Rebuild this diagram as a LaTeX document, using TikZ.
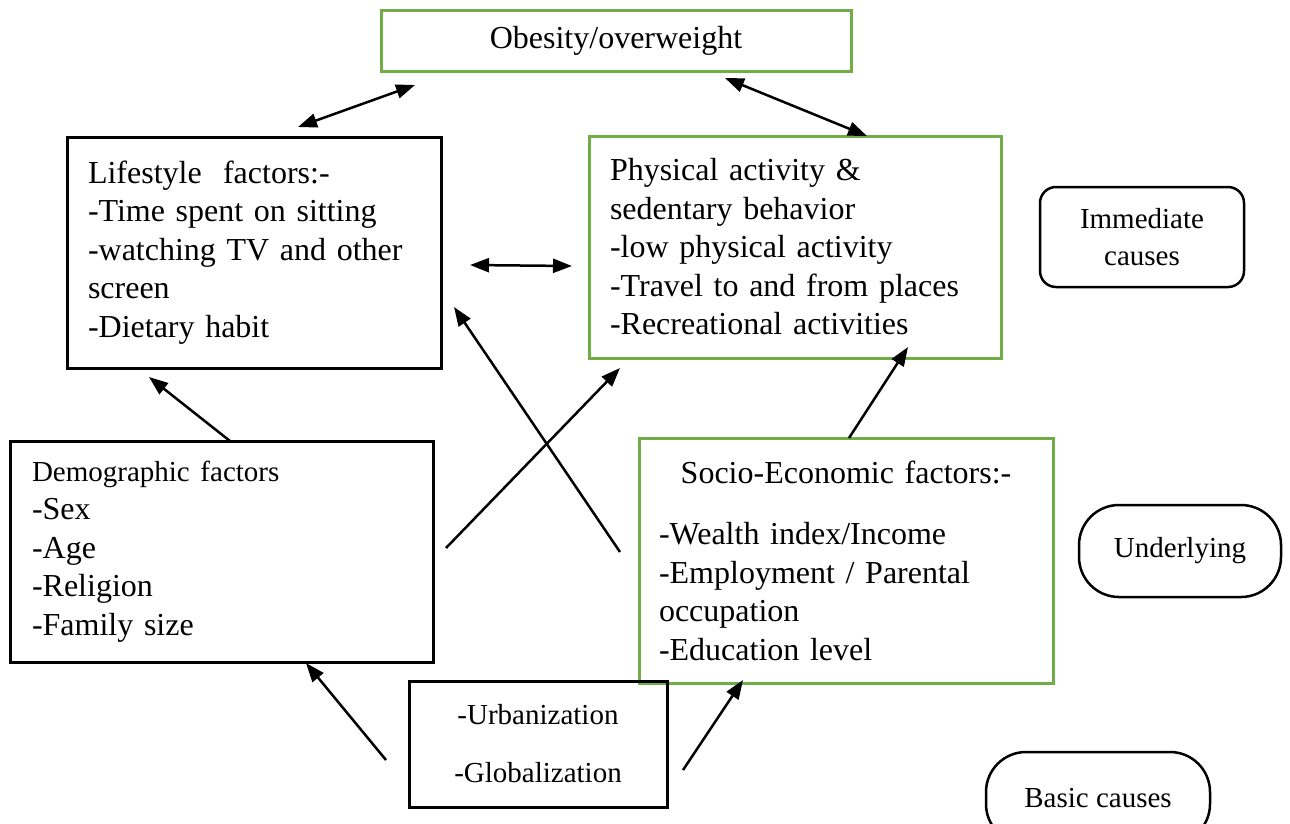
\documentclass[tikz,border=0pt]{standalone}
\usepackage{fontspec}
\setmainfont{Liberation Serif}
\usetikzlibrary{positioning,arrows.meta}

\begin{document}
\begin{tikzpicture}[x=1pt,y=-1pt,node distance=100pt,on grid,
    font=\fontsize{32}{38.5}\selectfont,
    >={Triangle[length=19pt,width=14pt]}]
      \tikzset{blackbox/.style={draw,rectangle,line width=3pt,outer sep=0pt},
               greenbox/.style={draw=boxgreen,rectangle,line width=3pt,outer sep=0pt},
               level/.style={draw,rectangle,line width=2.5pt,align=center,outer sep=0pt,
                 font=\fontsize{29}{37}\selectfont},
               link/.style={line width=2.5pt}}
      \definecolor{boxgreen}{RGB}{112,173,71}
      \useasboundingbox (0,0) rectangle (1290,823);

      \node[greenbox,minimum width=470pt,minimum height=61pt] (obesity) at (616,40.5) {Obesity/overweight};
      \node[blackbox,minimum width=374.5pt,minimum height=231pt,text width=332.5pt,inner xsep=21pt,align=left]
        (lifestyle) [below left = 212pt and 361.75pt of obesity]
        {Lifestyle\ \ factors:-\\-Time spent on sitting\\-watching TV and other\\screen\\-Dietary habit};
      \node[greenbox,minimum width=412pt,minimum height=222pt,text width=370pt,inner xsep=21pt,align=left]
        (physical) [below right = 206.5pt and 179pt of obesity]
        {Physical activity \&\\sedentary behavior\\-low physical activity\\-Travel to and from places\\-Recreational activities};
      \node[level,rounded corners=16pt,minimum width=204pt,minimum height=100pt]
        (immediate) [above right = 10pt and 347pt of physical] {Immediate\\causes};

      \node[blackbox,minimum width=423pt,minimum height=221pt,text width=379pt,inner xsep=22pt,align=left]
        (demographic) [below left = 299pt and 32.75pt of lifestyle]
        {{\fontsize{29}{38.5}\selectfont Demographic factors}\\-Sex\\-Age\\-Religion\\-Family size};
      \node[greenbox,minimum width=414pt,minimum height=245pt,text width=374pt,inner xsep=20pt,align=left]
        (socio) [below right = 313.5pt and 51pt of physical]
        {\makebox[\linewidth][c]{Socio-Economic factors:-}\\[23pt]-Wealth index/Income\\-Employment / Parental\\occupation\\-Education level};
      \node[level,rounded corners=40pt,minimum width=202pt,minimum height=92pt]
        (underlying) [below right = 314pt and 38pt of immediate] {Underlying};

      \node[blackbox,minimum width=258pt,minimum height=126pt,align=center,font=\fontsize{29}{37}\selectfont]
        (urban) [below left = 703.5pt and 78pt of obesity] {-Urbanization\\[21pt]-Globalization};
      \node[level,rounded corners=40pt,minimum width=224pt,minimum height=92pt]
        (basic) [below left = 247pt and 82pt of underlying] {Basic causes};

      % immediate causes
      \draw[link,<->] ([xshift=43.75pt,yshift=10pt]lifestyle.north) -- ([xshift=-201pt,yshift=-14pt]obesity.south);
      \draw[link,<->] ([xshift=109pt,yshift=-7pt]obesity.south) -- ([xshift=72pt]physical.north);
      \draw[link,<->] ([xshift=28.5pt,yshift=-12.5pt]lifestyle.east) -- ([xshift=-17pt,yshift=-19pt]physical.west);

      % underlying
      \draw[link,->] ([xshift=8.5pt]demographic.north) -- ([xshift=-105.25pt,yshift=-9pt]lifestyle.south);
      \draw[link,->] ([xshift=13pt,yshift=3.5pt]demographic.east) -- ([xshift=-175pt,yshift=-10pt]physical.south);
      \draw[link,->] ([xshift=-19pt,yshift=8.5pt]socio.west) -- ([xshift=12.5pt,yshift=-54.5pt]lifestyle.east);
      \draw[link,->] ([xshift=3pt]socio.north) -- ([xshift=113pt,yshift=11pt]physical.south);

      % basic
      \draw[link,->] ([xshift=-23pt,yshift=-16pt]urban.west) -- ([xshift=84.5pt,yshift=-1pt]demographic.south);
      \draw[link,->] ([xshift=16pt,yshift=-26pt]urban.east) -- ([xshift=-103pt,yshift=3pt]socio.south);
\end{tikzpicture}
\end{document}
